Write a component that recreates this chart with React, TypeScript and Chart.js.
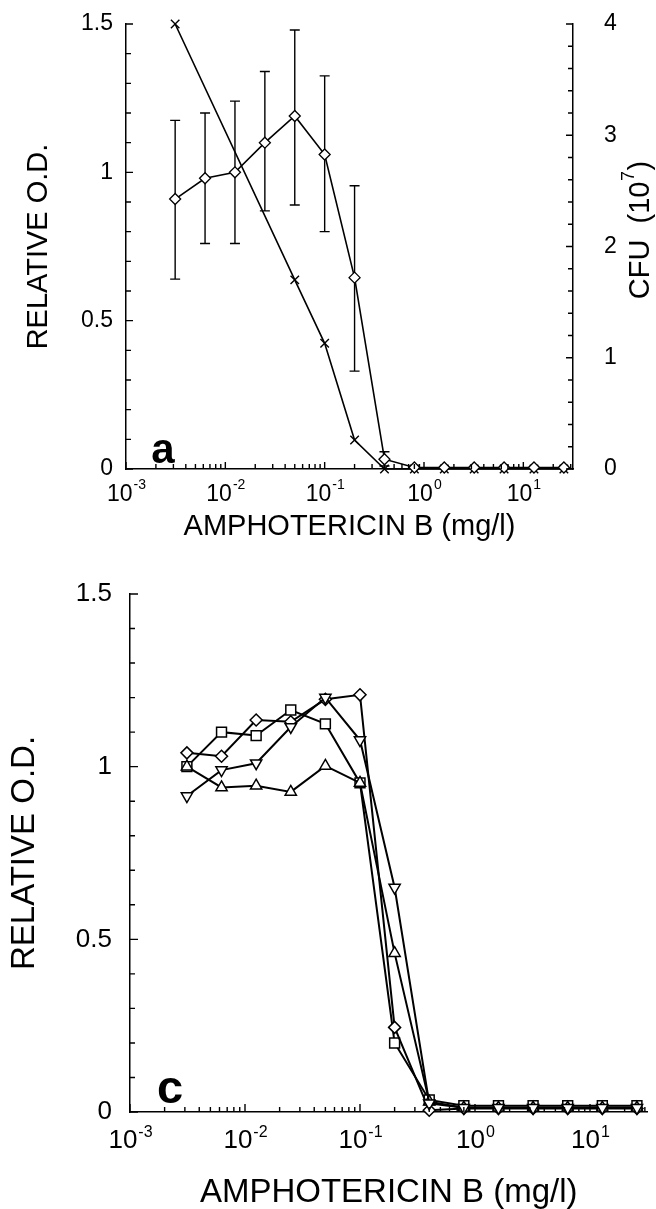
import React, { useEffect, useRef } from "react";
import { Chart, registerables } from "chart.js";
Chart.register(...registerables);

const FONT = "'Liberation Sans', Arial, Helvetica, sans-serif";

// ---------- shared x data (amphotericin B, mg/l) ----------
const CONC = [0.003125, 0.00625, 0.0125, 0.025, 0.05, 0.1, 0.2, 0.4, 0.8, 1.6, 3.2, 6.4, 12.8, 25.6];
const X_DECADES = [-3, -2, -1, 0, 1];
const X_MINOR_MULTS = [1, 2, 3, 4, 5, 6, 7, 8, 9];
const X_MIN = 0.001;
const X_MAX = 31.6228;

// ---------- panel a ----------
const A_OD = [0.91, 0.98, 1.0, 1.1, 1.19, 1.06, 0.645, 0.033, 0.005, 0.005, 0.005, 0.005, 0.005, 0.005];
const A_OD_HIGH = [1.175, 1.2, 1.24, 1.34, 1.48, 1.325, 0.955, 0.058, null, null, null, null, null, null];
const A_OD_LOW = [0.64, 0.76, 0.76, 0.87, 0.89, 0.8, 0.33, 0.01, null, null, null, null, null, null];
const A_CFU_CONC = [0.003125, 0.05, 0.1, 0.2, 0.4, 0.8, 1.6, 3.2, 6.4, 12.8, 25.6];
const A_CFU = [4.0, 1.7, 1.13, 0.26, 0, 0, 0, 0, 0, 0, 0];

// ---------- panel c ----------
const C_DIAMOND = [1.04, 1.03, 1.135, 1.13, 1.195, 1.208, 0.245, 0.005, 0.01, 0.01, 0.01, 0.01, 0.01, 0.01];
const C_SQUARE = [1.0, 1.1, 1.09, 1.164, 1.124, 0.953, 0.2, 0.035, 0.018, 0.018, 0.018, 0.018, 0.018, 0.018];
const C_TRI_UP = [1.0, 0.94, 0.945, 0.927, 1.002, 0.953, 0.46, 0.03, 0.012, 0.012, 0.012, 0.012, 0.012, 0.012];
const C_TRI_DOWN = [0.915, 0.99, 1.01, 1.115, 1.2, 1.077, 0.65, 0.025, 0.012, 0.012, 0.012, 0.012, 0.012, 0.012];

const OD_TICK_LABELS = [0, 0.5, 1, 1.5];
const CFU_TICK_LABELS = [0, 1, 2, 3, 4];

function near(v: number, list: number[]) {
  return list.some((l) => Math.abs(l - v) < 1e-6);
}

function buildLogTicks() {
  const out: { value: number; major: boolean }[] = [];
  for (const e of X_DECADES) {
    for (const m of X_MINOR_MULTS) {
      const v = m * Math.pow(10, e);
      if (v >= X_MIN * 0.9999 && v <= X_MAX * 1.0001) out.push({ value: v, major: m === 1 });
    }
  }
  return out;
}

type Decor = {
  letter: string;
  letterFont: number;
  letterX: number;
  letterY: number;
  xTitleY: number;
  titleFont: number;
  xTickY: number;
  xTickBase: number;
  xTickSup: number;
  xTickRaise: number;
  yTitleX: number;
  rightTitle?: { x: number; y: number };
  majorLen: number;
  minorLen: number;
};

function decorPlugin(d: Decor, errHigh?: (number | null)[], errLow?: (number | null)[]) {
  return {
    id: "decor",
    beforeDatasetsDraw(chart: any) {
      if (!errHigh || !errLow) return;
      const ctx = chart.ctx;
      const xs = chart.scales.x;
      const ys = chart.scales.y;
      ctx.save();
      ctx.strokeStyle = "#000";
      ctx.lineWidth = 1.4;
      CONC.forEach((c, i) => {
        const hi = errHigh[i];
        const lo = errLow[i];
        if (hi == null || lo == null) return;
        const px = xs.getPixelForValue(c);
        const yh = ys.getPixelForValue(hi);
        const yl = ys.getPixelForValue(lo);
        ctx.beginPath();
        ctx.moveTo(px, yh);
        ctx.lineTo(px, yl);
        ctx.moveTo(px - 5, yh);
        ctx.lineTo(px + 5, yh);
        ctx.moveTo(px - 5, yl);
        ctx.lineTo(px + 5, yl);
        ctx.stroke();
      });
      ctx.restore();
    },
    afterDraw(chart: any) {
      const ctx = chart.ctx;
      const area = chart.chartArea;
      const xs = chart.scales.x;
      const ys = chart.scales.y;
      const y2 = chart.scales.y2;
      ctx.save();
      ctx.strokeStyle = "#000";
      ctx.fillStyle = "#000";
      ctx.lineWidth = 1.4;
      // inward ticks on x
      ctx.beginPath();
      xs.ticks.forEach((t: any) => {
        const px = xs.getPixelForValue(t.value);
        const len = t.major ? d.majorLen : d.minorLen;
        ctx.moveTo(px, area.bottom);
        ctx.lineTo(px, area.bottom - len);
      });
      ys.ticks.forEach((t: any) => {
        const py = ys.getPixelForValue(t.value);
        const len = near(t.value, OD_TICK_LABELS) ? d.majorLen : d.minorLen;
        ctx.moveTo(area.left, py);
        ctx.lineTo(area.left + len, py);
      });
      if (y2) {
        y2.ticks.forEach((t: any) => {
          const py = y2.getPixelForValue(t.value);
          const len = near(t.value, CFU_TICK_LABELS) ? d.majorLen : d.minorLen;
          ctx.moveTo(area.right, py);
          ctx.lineTo(area.right - len, py);
        });
      }
      ctx.stroke();

      // x tick labels with superscript exponents
      ctx.textBaseline = "alphabetic";
      ctx.textAlign = "left";
      X_DECADES.forEach((e) => {
        const px = xs.getPixelForValue(Math.pow(10, e));
        const base = "10";
        const sup = e < 0 ? "-" + Math.abs(e) : String(e);
        ctx.font = `${d.xTickBase}px ${FONT}`;
        const wb = ctx.measureText(base).width;
        ctx.font = `${d.xTickSup}px ${FONT}`;
        const ws = ctx.measureText(sup).width;
        const x0 = px - (wb + ws) / 2;
        ctx.font = `${d.xTickBase}px ${FONT}`;
        ctx.fillText(base, x0, d.xTickY);
        ctx.font = `${d.xTickSup}px ${FONT}`;
        ctx.fillText(sup, x0 + wb + 1, d.xTickY - d.xTickRaise);
      });

      // x title
      ctx.font = `${d.titleFont}px ${FONT}`;
      ctx.textAlign = "center";
      ctx.fillText("AMPHOTERICIN B (mg/l)", (area.left + area.right) / 2, d.xTitleY);

      // y title
      ctx.save();
      ctx.translate(d.yTitleX, (area.top + area.bottom) / 2);
      ctx.rotate(-Math.PI / 2);
      ctx.textBaseline = "middle";
      ctx.textAlign = "center";
      ctx.fillText("RELATIVE O.D.", 0, 0);
      ctx.restore();

      // right title with superscript
      if (d.rightTitle) {
        ctx.save();
        ctx.translate(d.rightTitle.x, d.rightTitle.y);
        ctx.rotate(-Math.PI / 2);
        ctx.textBaseline = "middle";
        ctx.textAlign = "left";
        const p1 = "CFU  (10";
        const p2 = "7";
        const p3 = ")";
        const supSize = Math.round(d.titleFont * 0.62);
        ctx.font = `${d.titleFont}px ${FONT}`;
        const w1 = ctx.measureText(p1).width;
        const w3 = ctx.measureText(p3).width;
        ctx.font = `${supSize}px ${FONT}`;
        const w2 = ctx.measureText(p2).width;
        let x0 = -(w1 + w2 + w3 + 1) / 2;
        ctx.font = `${d.titleFont}px ${FONT}`;
        ctx.fillText(p1, x0, 0);
        ctx.font = `${supSize}px ${FONT}`;
        ctx.fillText(p2, x0 + w1 + 0.5, -d.titleFont * 0.4);
        ctx.font = `${d.titleFont}px ${FONT}`;
        ctx.fillText(p3, x0 + w1 + w2 + 1, 0);
        ctx.restore();
      }

      // panel letter
      ctx.font = `bold ${d.letterFont}px ${FONT}`;
      ctx.textAlign = "center";
      ctx.textBaseline = "alphabetic";
      ctx.fillText(d.letter, d.letterX, d.letterY);
      ctx.restore();
    },
  };
}

function zeroPad(s: any) {
  s.paddingTop = 0;
  s.paddingBottom = 0;
  s.paddingLeft = 0;
  s.paddingRight = 0;
}

function xScale(height: number) {
  return {
    type: "logarithmic",
    min: X_MIN,
    max: X_MAX,
    ticks: { display: false },
    grid: { display: false },
    border: { display: true, color: "#000", width: 1.5 },
    afterBuildTicks: (s: any) => {
      s.ticks = buildLogTicks();
    },
    afterFit: (s: any) => {
      s.height = height;
      zeroPad(s);
    },
  };
}

function odScale(width: number, font: number, padding: number) {
  return {
    type: "linear",
    position: "left",
    min: 0,
    max: 1.5,
    ticks: {
      stepSize: 0.1,
      autoSkip: false,
      padding,
      color: "#000",
      font: { family: FONT, size: font },
      callback: (v: any) => (near(Number(v), OD_TICK_LABELS) ? String(Math.round(Number(v) * 10) / 10) : ""),
    },
    grid: { display: false, drawTicks: false },
    border: { display: true, color: "#000", width: 1.5 },
    afterFit: (s: any) => {
      s.width = width;
      zeroPad(s);
    },
  };
}

function lineDs(xs: number[], ys: number[], extra: any) {
  return {
    data: xs.map((x, i) => ({ x, y: ys[i] })),
    showLine: true,
    borderColor: "#000",
    pointBorderColor: "#000",
    pointBackgroundColor: "#fff",
    clip: false,
    ...extra,
  };
}

function ChartA() {
  const ref = useRef<HTMLCanvasElement>(null);
  useEffect(() => {
    if (!ref.current) return;
    const chart = new Chart(ref.current, {
      type: "scatter",
      data: {
        datasets: [
          lineDs(CONC, A_OD, {
            yAxisID: "y",
            borderWidth: 1.6,
            pointStyle: "rectRot",
            pointRadius: 5.5,
            pointBorderWidth: 1.3,
          }),
          lineDs(A_CFU_CONC, A_CFU, {
            yAxisID: "y2",
            borderWidth: 1.6,
            pointStyle: "crossRot",
            pointRadius: 6,
            pointBorderWidth: 1.4,
          }),
        ],
      },
      options: {
        animation: false,
        responsive: false,
        devicePixelRatio: 1,
        events: [],
        layout: { padding: { top: 24, left: 0, right: 0, bottom: 0 } },
        plugins: { legend: { display: false }, tooltip: { enabled: false } },
        scales: {
          x: xScale(81),
          y: odScale(126, 23, 13),
          y2: {
            type: "linear",
            position: "right",
            min: 0,
            max: 4,
            ticks: {
              stepSize: 0.2,
              autoSkip: false,
              padding: 31,
              color: "#000",
              font: { family: FONT, size: 23 },
              callback: (v: any) => (near(Number(v), CFU_TICK_LABELS) ? String(Math.round(Number(v))) : ""),
            },
            grid: { display: false, drawTicks: false },
            border: { display: true, color: "#000", width: 1.5 },
            afterFit: (s: any) => {
              s.width = 83;
              zeroPad(s);
            },
          },
        } as any,
      },
      plugins: [
        decorPlugin(
          {
            letter: "a",
            letterFont: 42,
            letterX: 163,
            letterY: 463,
            xTitleY: 535,
            titleFont: 29,
            xTickY: 501,
            xTickBase: 23,
            xTickSup: 14,
            xTickRaise: 12,
            yTitleX: 39,
            rightTitle: { x: 641, y: 230 },
            majorLen: 7,
            minorLen: 5,
          },
          A_OD_HIGH,
          A_OD_LOW
        ),
      ],
    } as any);
    return () => chart.destroy();
  }, []);
  return <canvas ref={ref} width={656} height={550} style={{ position: "absolute", left: 0, top: 0 }} />;
}

function ChartC() {
  const ref = useRef<HTMLCanvasElement>(null);
  useEffect(() => {
    if (!ref.current) return;
    const common = { yAxisID: "y", borderWidth: 2, pointBorderWidth: 1.5 };
    const chart = new Chart(ref.current, {
      type: "scatter",
      data: {
        datasets: [
          lineDs(CONC, C_TRI_DOWN, { ...common, pointStyle: "triangle", pointRotation: 180, pointRadius: 6.5 }),
          lineDs(CONC, C_TRI_UP, { ...common, pointStyle: "triangle", pointRadius: 6.5 }),
          lineDs(CONC, C_DIAMOND, { ...common, pointStyle: "rectRot", pointRadius: 6 }),
          lineDs(CONC, C_SQUARE, { ...common, pointStyle: "rect", pointRadius: 7 }),
        ],
      },
      options: {
        animation: false,
        responsive: false,
        devicePixelRatio: 1,
        events: [],
        layout: { padding: { top: 34, left: 0, right: 0, bottom: 0 } },
        plugins: { legend: { display: false }, tooltip: { enabled: false } },
        scales: {
          x: xScale(97),
          y: odScale(130, 26, 18),
        } as any,
      },
      plugins: [
        decorPlugin({
          letter: "c",
          letterFont: 47,
          letterX: 170,
          letterY: 543,
          xTitleY: 642,
          titleFont: 33,
          xTickY: 588,
          xTickBase: 26,
          xTickSup: 16,
          xTickRaise: 11,
          yTitleX: 25,
          majorLen: 8,
          minorLen: 5,
        }),
      ],
    } as any);
    return () => chart.destroy();
  }, []);
  return <canvas ref={ref} width={656} height={649} style={{ position: "absolute", left: 0, top: 560 }} />;
}

export default function App() {
  return (
    <div style={{ position: "absolute", left: 0, top: 0, width: 656, height: 1209, background: "#fff", overflow: "hidden" }}>
      <ChartA />
      <ChartC />
    </div>
  );
}
